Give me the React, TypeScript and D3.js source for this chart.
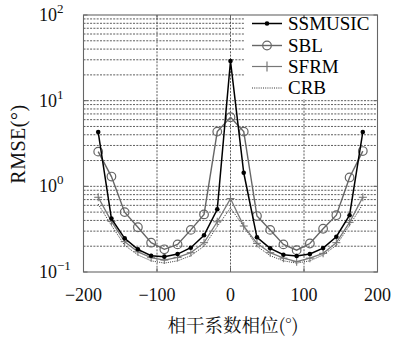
import React from "react";
import * as d3 from "d3";

const phases = [-180, -162, -144, -126, -108, -90, -72, -54, -36, -18, 0, 18, 36, 54, 72, 90, 108, 126, 144, 162, 180];
const ssmusic = [4.3, 0.42, 0.247, 0.184, 0.155, 0.151, 0.162, 0.192, 0.268, 0.54, 29, 1.44, 0.254, 0.189, 0.159, 0.154, 0.162, 0.19, 0.258, 0.46, 4.3];
const sbl = [2.54, 1.3, 0.5, 0.333, 0.22, 0.184, 0.21, 0.31, 0.47, 4.35, 6.4, 4.35, 0.45, 0.31, 0.21, 0.18, 0.215, 0.32, 0.46, 1.27, 2.58];
const sfrm = [0.745, 0.39, 0.226, 0.172, 0.147, 0.138, 0.148, 0.168, 0.22, 0.386, 0.72, 0.344, 0.216, 0.168, 0.145, 0.132, 0.145, 0.165, 0.22, 0.38, 0.745];
const crb = [0.62, 0.35, 0.205, 0.158, 0.135, 0.127, 0.135, 0.155, 0.2, 0.34, 0.56, 0.34, 0.2, 0.155, 0.135, 0.127, 0.135, 0.158, 0.205, 0.35, 0.62];
const xTicks = [-200, -100, 0, 100, 200];
const xGrid = [-100, 0, 100];
const yDecades = [0.1, 1, 10, 100];
const yExp = ["-1", "0", "1", "2"];
const legendNames = ["SSMUSIC", "SBL", "SFRM", "CRB"];

const W = 395, H = 338;
const L = 83.5, R = 377.5, T = 15, B = 272;
const serifStyle = { fontFamily: "\"Liberation Serif\"" };
const cjkStyle = { fontFamily: "\"Noto Serif CJK SC\"" };

export default function App() {
  const x = d3.scaleLinear().domain([-200, 200]).range([L, R]);
  const y = d3.scaleLog().domain([0.1, 100]).range([B, T]);
  const line = (vals: number[]) =>
    d3.line<number>().x((_, i) => x(phases[i])).y((v) => y(v))(vals) || "";

  const minor: number[] = [];
  [0.1, 1, 10].forEach((d) => {
    for (let k = 2; k <= 9; k++) minor.push(d * k);
  });
  const hGrid = [...minor, 1, 10];

  const grid = "#333";
  const legY = [23.5, 45.5, 66.5, 88];

  return (
    <svg width={W} height={H} style={{ position: "absolute", left: 0, top: 0, background: "#fff" }}>
      <rect x={0} y={0} width={W} height={H} fill="#fff" />
      {hGrid.map((v, i) => (
        <line key={"h" + i} x1={L} x2={R} y1={y(v)} y2={y(v)} stroke={grid} strokeWidth={0.8} strokeDasharray="2,1.3" />
      ))}
      {xGrid.map((v, i) => (
        <line key={"v" + i} x1={x(v)} x2={x(v)} y1={T} y2={B} stroke={grid} strokeWidth={0.8} strokeDasharray="2,1.3" />
      ))}
      <rect x={245} y={17} width={131} height={82} fill="#fff" />
      <path d={line(crb)} fill="none" stroke="#333" strokeWidth={1} strokeDasharray="1,1.2" />
      <path d={line(sfrm)} fill="none" stroke="#777" strokeWidth={1.3} />
      {sfrm.map((v, i) => (
        <g key={"f" + i} stroke="#777" strokeWidth={1.1}>
          <line x1={x(phases[i]) - 4} x2={x(phases[i]) + 4} y1={y(v)} y2={y(v)} />
          <line x1={x(phases[i])} x2={x(phases[i])} y1={y(v) - 4} y2={y(v) + 4} />
        </g>
      ))}
      <path d={line(sbl)} fill="none" stroke="#666" strokeWidth={1.4} />
      {sbl.map((v, i) => (
        <circle key={"b" + i} cx={x(phases[i])} cy={y(v)} r={4.3} fill="none" stroke="#666" strokeWidth={1.2} />
      ))}
      <path d={line(ssmusic)} fill="none" stroke="#000" strokeWidth={1.5} />
      {ssmusic.map((v, i) => (
        <circle key={"s" + i} cx={x(phases[i])} cy={y(v)} r={2.3} fill="#000" />
      ))}
      <rect x={L} y={T} width={R - L} height={B - T} fill="none" stroke="#666" strokeWidth={1.1} />
      {xTicks.map((v, i) => (
        <g key={"xt" + i} stroke="#666">
          <line x1={x(v)} x2={x(v)} y1={B} y2={B - 4} />
          <line x1={x(v)} x2={x(v)} y1={T} y2={T + 4} />
        </g>
      ))}
      {yDecades.map((v, i) => (
        <g key={"yt" + i} stroke="#666">
          <line x1={L} x2={L + 4} y1={y(v)} y2={y(v)} />
          <line x1={R} x2={R - 4} y1={y(v)} y2={y(v)} />
        </g>
      ))}
      {legendNames.map((n, i) => {
        const ly = legY[i];
        const x1 = 252, x2 = 282, cx = 267;
        return (
          <g key={"lg" + i}>
            {i === 0 && (
              <g>
                <line x1={x1} x2={x2} y1={ly} y2={ly} stroke="#000" strokeWidth={1.5} />
                <circle cx={cx} cy={ly} r={2.3} fill="#000" />
              </g>
            )}
            {i === 1 && (
              <g>
                <line x1={x1} x2={x2} y1={ly} y2={ly} stroke="#666" strokeWidth={1.4} />
                <circle cx={cx} cy={ly} r={4.3} fill="none" stroke="#666" strokeWidth={1.2} />
              </g>
            )}
            {i === 2 && (
              <g stroke="#777" strokeWidth={1.2}>
                <line x1={x1} x2={x2} y1={ly} y2={ly} />
                <line x1={cx} x2={cx} y1={ly - 5} y2={ly + 5} />
              </g>
            )}
            {i === 3 && (
              <line x1={x1} x2={x2} y1={ly} y2={ly} stroke="#333" strokeWidth={1} strokeDasharray="1,1.2" />
            )}
            <text x={288} y={ly + 6} style={serifStyle} fontSize={19} fill="#000">{n}</text>
          </g>
        );
      })}
      {yDecades.map((v, i) => (
        <text key={"yl" + i} x={39} y={y(v) + 6} style={serifStyle} fontSize={18} fill="#111">
          10<tspan dy={-8} fontSize={13}>{yExp[i].replace("-", "\u2212")}</tspan>
        </text>
      ))}
      {xTicks.map((v, i) => (
        <text key={"xl" + i} x={x(v)} y={301} textAnchor="middle" style={serifStyle} fontSize={18} fill="#111">
          {v < 0 ? "\u2212" + Math.abs(v) : String(v)}
        </text>
      ))}
      <text x={233} y={332} textAnchor="middle" style={cjkStyle} fontSize={18.5} fill="#111">
        相干系数相位(°)
      </text>
      <text transform="translate(25,144) rotate(-90)" textAnchor="middle" style={serifStyle} fontSize={20} letterSpacing={0.5} fill="#111">
        RMSE(°)
      </text>
    </svg>
  );
}
